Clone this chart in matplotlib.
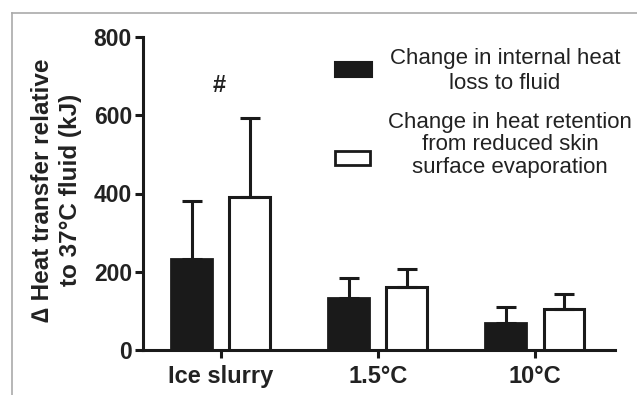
import matplotlib
matplotlib.use("Agg")
import matplotlib.pyplot as plt
from matplotlib.patches import Rectangle
from matplotlib.lines import Line2D
import numpy as np

plt.rcParams['font.family'] = ['Liberation Sans', 'DejaVu Sans']

categories = ["Ice slurry", "1.5°C", "10°C"]
internal_loss = [232, 132, 70]
internal_err = [149, 53, 41]
retention = [392, 162, 104]
retention_err = [200, 45, 40]
series_labels = ["Change in internal heat\nloss to fluid",
                 "Change in heat retention\nfrom reduced skin\nsurface evaporation"]
yticks = [0, 200, 400, 600, 800]

W, H = 637, 395
fig = plt.figure(figsize=(W/100, H/100), dpi=100)
ax = fig.add_axes([143/W, 1-350/H, (615-143)/W, (350-37)/H])

x = np.arange(len(categories))
bw = 0.26
off = 0.185
err_kw = dict(elinewidth=2.2, capsize=7.5, capthick=2.2, ecolor='#1a1a1a')
ax.bar(x - off, internal_loss, bw, color='#1a1a1a', edgecolor='#1a1a1a', linewidth=2,
       yerr=[np.zeros(3), internal_err], error_kw=err_kw, zorder=3)
ax.bar(x + off, retention, bw, color='white', edgecolor='#1a1a1a', linewidth=2.2,
       yerr=[np.zeros(3), retention_err], error_kw=err_kw, zorder=3)

ax.set_xlim(-0.495, 2.51)
ax.set_ylim(0, 800)
ax.set_yticks(yticks)
ax.set_xticks(x)
ax.set_xticklabels(categories, fontsize=17, fontweight='bold', color='#222222')
ax.set_yticklabels([str(t) for t in yticks], fontsize=16.5, fontweight='bold', color='#222222')
for s in ['top', 'right']:
    ax.spines[s].set_visible(False)
for s in ['left', 'bottom']:
    ax.spines[s].set_linewidth(2.2)
    ax.spines[s].set_color('#1a1a1a')
ax.tick_params(axis='both', width=2.2, length=6, color='#1a1a1a')
ax.tick_params(axis='x', pad=5)
ax.tick_params(axis='y', pad=2)

ax.set_ylabel("∆ Heat transfer relative\nto 37°C fluid (kJ)", fontsize=17.5,
              fontweight='bold', color='#222222', linespacing=1.3)
ax.yaxis.set_label_coords(-0.129, 0.51)

ax.text(x[0] - 0.01, 675, "#", ha='center', va='center', fontsize=17,
        fontweight='bold', color='#222222')

# legend drawn manually
fig.add_artist(Rectangle((335/W, 1-77/H), 37/W, 15/H, transform=fig.transFigure,
                         facecolor='#1a1a1a', edgecolor='#1a1a1a', linewidth=1.5))
fig.add_artist(Rectangle((335/W, 1-165/H), 35/W, 14/H, transform=fig.transFigure,
                         facecolor='white', edgecolor='#1a1a1a', linewidth=2))
fig.text(505/W, 1-71/H, series_labels[0], ha='center', va='center', fontsize=16,
         color='#222222', linespacing=1.3)
fig.text(510/W, 1-145/H, series_labels[1], ha='center', va='center', fontsize=16,
         color='#222222', linespacing=1.12)

# frame lines
fig.add_artist(Line2D([12/W, 1], [1-13/H, 1-13/H], transform=fig.transFigure,
                      color='#aaaaaa', linewidth=1.2))
fig.add_artist(Line2D([12/W, 12/W], [0, 1-13/H], transform=fig.transFigure,
                      color='#aaaaaa', linewidth=1.2))

fig.savefig("out.png", dpi=100)
